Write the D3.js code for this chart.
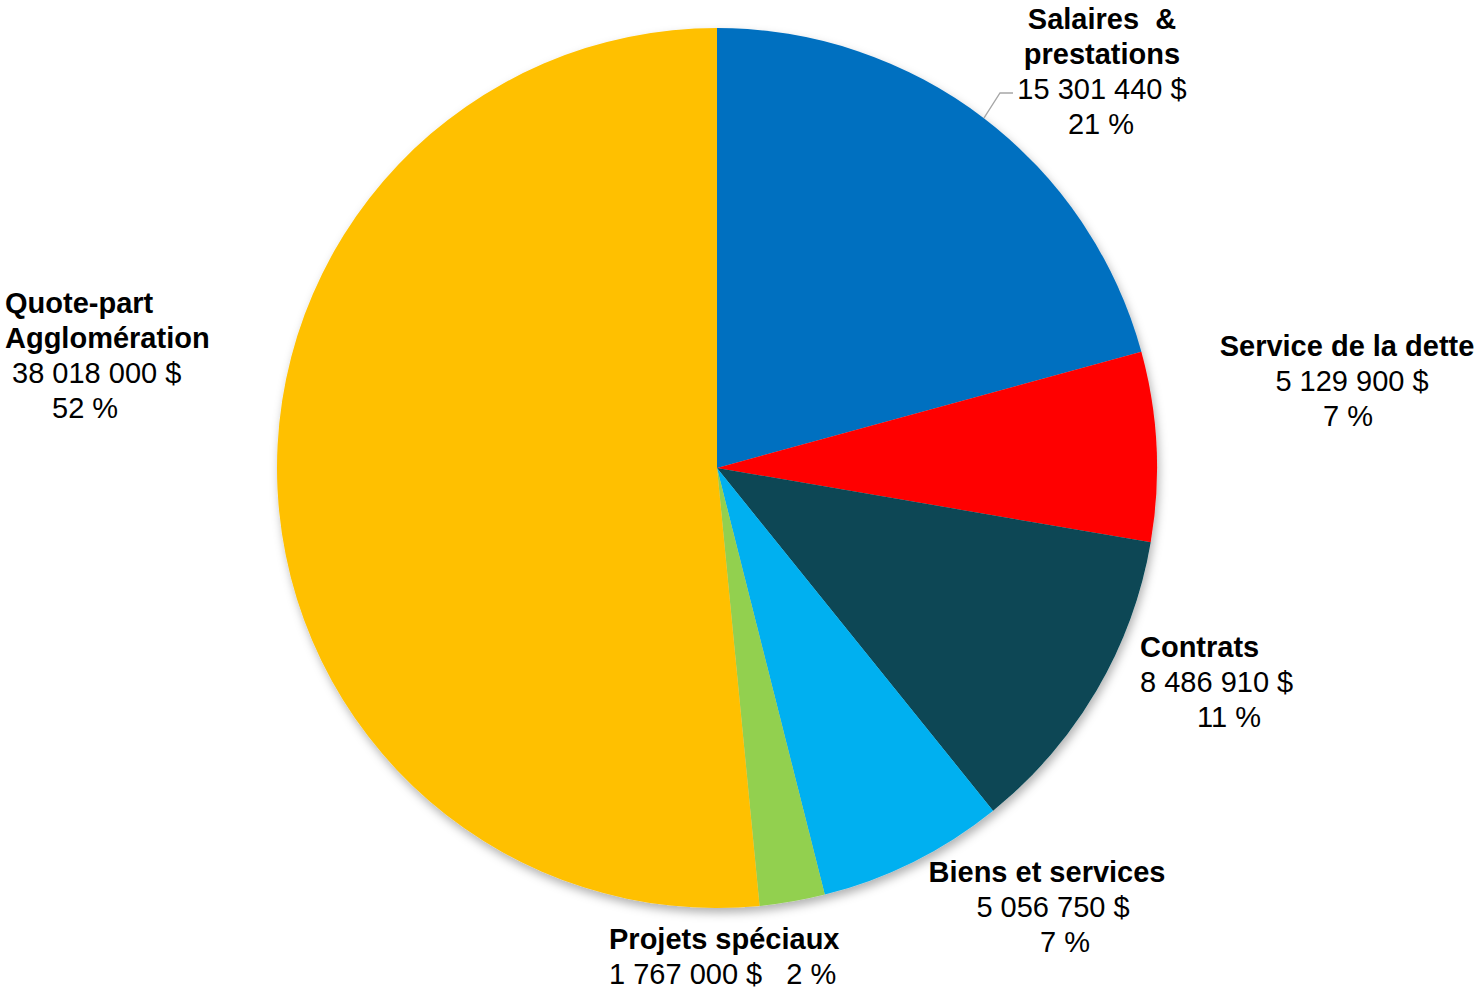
<!DOCTYPE html>
<html>
<head>
<meta charset="utf-8">
<script src="https://cdn.jsdelivr.net/npm/d3@7"></script>
<style>
  body { margin: 0; background: #fff; }
  text { font-family: "Liberation Sans", Arial, sans-serif; font-size: 29px; fill: #000; white-space: pre; }
  .bold { font-weight: bold; }
</style>
</head>
<body>
<svg id="chart" width="1477" height="991"></svg>
<script>
// data
var categories = ["Salaires  & prestations", "Service de la dette", "Contrats", "Biens et services", "Projets spéciaux", "Quote-part Agglomération"];
var amounts = [15301440, 5129900, 8486910, 5056750, 1767000, 38018000];
var amountLabels = ["15 301 440 $", "5 129 900 $", "8 486 910 $", "5 056 750 $", "1 767 000 $", "38 018 000 $"];
var pctLabels = ["21 %", "7 %", "11 %", "7 %", "2 %", "52 %"];
var colors = ["#0070C0", "#FF0000", "#074654", "#00B0F0", "#92D050", "#FFC000"];

// label text lines per slice: [text, bold]
var labelLines = [
  [["Salaires  &", 1], ["prestations", 1], [amountLabels[0], 0], [pctLabels[0], 0]],
  [["Service de la dette", 1], [amountLabels[1], 0], [pctLabels[1], 0]],
  [["Contrats", 1], [amountLabels[2], 0], [pctLabels[2], 0]],
  [["Biens et services", 1], [amountLabels[3], 0], [pctLabels[3], 0]],
  [["Projets spéciaux", 1], [amountLabels[4] + "   " + pctLabels[4], 0]],
  [["Quote-part", 1], ["Agglomération", 1], [amountLabels[5], 0], [pctLabels[5], 0]]
];

// layout (x of each line center/start, first baseline)
var labelLayout = [
  {anchor: "middle", xs: [1102, 1102, 1102, 1101], y: 29},
  {anchor: "middle", xs: [1347, 1352, 1348], y: 356},
  {anchor: "start", xs: [1140, 1140, 1197], y: 657},
  {anchor: "middle", xs: [1047, 1053, 1065], y: 882},
  {anchor: "start", xs: [609, 609], y: 949},
  {anchor: "start", xs: [5, 5, 12, 52], y: 313}
];
var lineHeight = 35;

var width = 1477, height = 991;
var cx = 717, cy = 468, radius = 440;

var svg = d3.select("#chart");

var defs = svg.append("defs");
var filter = defs.append("filter")
    .attr("id", "shadow")
    .attr("x", "-10%").attr("y", "-10%")
    .attr("width", "120%").attr("height", "120%");
filter.append("feDropShadow")
    .attr("dx", 2).attr("dy", 5)
    .attr("stdDeviation", 5)
    .attr("flood-color", "#000")
    .attr("flood-opacity", 0.3);

var pie = d3.pie().sort(null).value(function(d) { return d; });
var arc = d3.arc().innerRadius(0).outerRadius(radius);

var arcs = pie(amounts);

var g = svg.append("g")
    .attr("transform", "translate(" + cx + "," + cy + ")")
    .attr("filter", "url(#shadow)");

g.selectAll("path.slice")
  .data(arcs)
  .enter().append("path")
    .attr("class", "slice")
    .attr("d", arc)
    .style("fill", function(d, i) { return colors[i]; });

// leader line for first slice
var a0 = arcs[0];
var mid = (a0.startAngle + a0.endAngle) / 2;
var px = cx + radius * Math.sin(mid), py = cy - radius * Math.cos(mid);
svg.append("polyline")
    .attr("points", [[px, py], [1000, 93], [1013, 93]].map(function(p) { return p.join(","); }).join(" "))
    .style("fill", "none")
    .style("stroke", "#A6A6A6")
    .style("stroke-width", 1.3);

// labels
labelLines.forEach(function(lines, i) {
  var lay = labelLayout[i];
  var t = svg.append("g").attr("class", "label");
  lines.forEach(function(l, j) {
    t.append("text")
      .attr("class", l[1] ? "bold" : null)
      .attr("x", lay.xs[j])
      .attr("y", lay.y + j * lineHeight)
      .attr("text-anchor", lay.anchor)
      .text(l[0]);
  });
});
</script>
</body>
</html>
